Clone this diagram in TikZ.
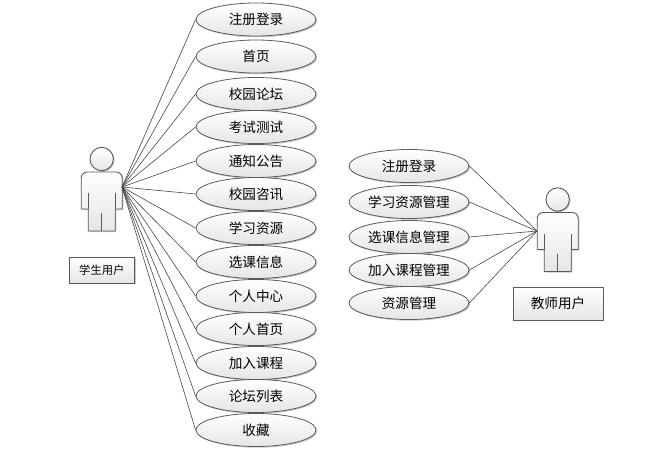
\documentclass[tikz,border=0pt]{standalone}
\usepackage{fontspec}
\setmainfont{Noto Sans CJK SC}
\usetikzlibrary{shapes.geometric,shadows}
\definecolor{edgegrey}{RGB}{90,90,90}
\definecolor{lineg}{RGB}{70,70,70}
\tikzset{
  x=1pt,y=-1pt,
  softshadow/.style={drop shadow={shadow xshift=1.2pt,shadow yshift=-1.2pt,fill=black,opacity=0.22}},
  usecase/.style={ellipse,draw=edgegrey,line width=0.8pt,top color=white,bottom color=white!90!black,minimum width=120pt,minimum height=33pt,inner sep=0pt,font=\fontsize{13.6}{14}\selectfont,text=black,softshadow},
  labelbox/.style={rectangle,draw=edgegrey,line width=0.9pt,top color=white,bottom color=white!90!black,inner sep=0pt,text=black,softshadow},
  actorshape/.style={draw=edgegrey,line width=0.9pt,top color=white,bottom color=white!90!black,softshadow,line join=round},
  assoc/.style={draw=lineg,line width=0.6pt},
}
\newcommand{\actorfig}[2]{%
  \begin{scope}[shift={(#1,#2)}]
    \path[actorshape] (0,-28) circle[radius=11.7];
    \path[actorshape,rounded corners=6pt] (-20.5,22) -- (-20.5,-15) -- (20.5,-15)
      {[sharp corners] -- (20.5,22) -- (13.5,22) -- (13.5,44) -- (-13.5,44) -- (-13.5,22) -- (-20.5,22)} -- cycle;
    \draw[draw=edgegrey,line width=0.9pt] (-13.5,6) -- (-13.5,22) (13.5,6) -- (13.5,22) (0,26) -- (0,44);
  \end{scope}}
\begin{document}
\begin{tikzpicture}
\useasboundingbox (0,0) rectangle (665,451);
\coordinate (student) at (122,187);
\coordinate (teacher) at (537,231);
\actorfig{101.7}{187}
\actorfig{557.7}{227.5}
\node[labelbox,minimum width=65pt,minimum height=26pt,font=\fontsize{11.3}{12}\selectfont] (sbox) at (101.8,270) {学生用户};
\node[labelbox,minimum width=90pt,minimum height=33pt,font=\fontsize{13.6}{14}\selectfont] (tbox) at (558,303.5) {教师用户};
\foreach \n/\y/\t in {a/19.5/注册登录,b/56.5/首页,c/94/校园论坛,d/127/考试测试,e/161/通知公告,f/194/校园咨讯,g/228/学习资源,h/262/选课信息,i/296/个人中心,j/329/个人首页,k/363/加入课程,l/396/论坛列表,m/430/收藏}{
  \node[usecase] (\n) at (256,\y) {\t};
  \draw[assoc] (student) -- (\n.west);
}
\foreach \n/\y/\t in {p/166/注册登录,q/202/学习资源管理,r/237/选课信息管理,s/270/加入课程管理,t/303/资源管理}{
  \node[usecase] (\n) at (409,\y) {\t};
  \draw[assoc] (teacher) -- (\n.east);
}
\end{tikzpicture}
\end{document}
